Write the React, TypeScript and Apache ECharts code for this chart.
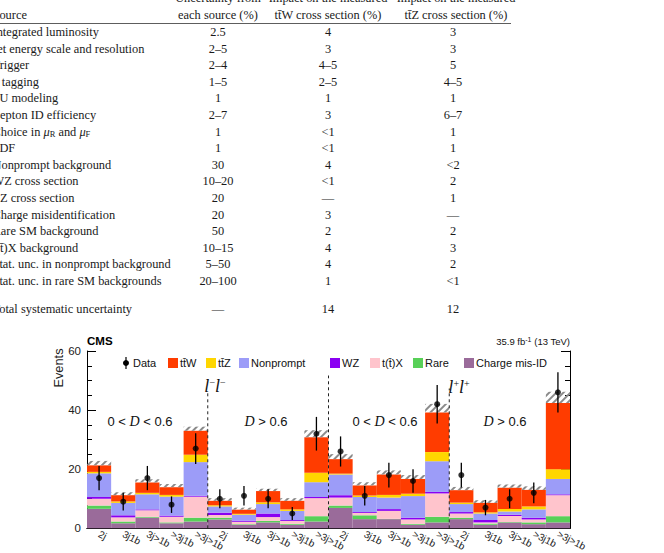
import React, { useEffect, useRef } from "react";
import * as echarts from "echarts";

// ---------- table data ----------
const tableHeaderTop = ["Uncertainty from", "Impact on the measured", "Impact on the measured"];
const tableHeaderBottom = ["Source", "each source (%)", "tt\u0304W cross section (%)", "tt\u0304Z cross section (%)"];
const tableSources = [
  "Integrated luminosity",
  "Jet energy scale and resolution",
  "Trigger",
  "b tagging",
  "PU modeling",
  "Lepton ID efficiency",
  "Choice in {m|\u03bc}{s|R} and {m|\u03bc}{s|F}",
  "PDF",
  "Nonprompt background",
  "WZ cross section",
  "ZZ cross section",
  "Charge misidentification",
  "Rare SM background",
  "t(t\u0304)X background",
  "Stat. unc. in nonprompt background",
  "Stat. unc. in rare SM backgrounds",
  "Total systematic uncertainty",
];
const tableEachSource = ["2.5", "2\u20135", "2\u20134", "1\u20135", "1", "2\u20137", "1", "1", "30", "10\u201320", "20", "20", "50", "10\u201315", "5\u201350", "20\u2013100", "\u2014"];
const tableImpactTTW = ["4", "3", "4\u20135", "2\u20135", "1", "3", "<1", "<1", "4", "<1", "\u2014", "3", "2", "4", "4", "1", "14"];
const tableImpactTTZ = ["3", "3", "5", "4\u20135", "1", "6\u20137", "1", "1", "<2", "2", "1", "\u2014", "2", "3", "2", "<1", "12"];

// ---------- chart data ----------
const binLabels = [
  "2j", "3j1b", "3j>1b", ">3j1b", ">3j>1b",
  "2j", "3j1b", "3j>1b", ">3j1b", ">3j>1b",
  "2j", "3j1b", "3j>1b", ">3j1b", ">3j>1b",
  "2j", "3j1b", "3j>1b", ">3j1b", ">3j>1b",
];
const chargeMisID = [6.6, 1.7, 3.6, 1.7, 2.3, 3.0, 1.2, 2.0, 1.2, 2.3, 6.9, 3.1, 3.1, 1.2, 2.0, 3.1, 1.2, 2.0, 1.4, 2.0];
const rare = [1.1, 0.6, 0.3, 0.3, 1.3, 0.6, 0.2, 0.5, 0.3, 1.8, 0.8, 1.3, 0.1, 0.3, 1.9, 0.5, 0.4, 0.1, 0.6, 2.1];
const ttX = [2.3, 1.4, 2.2, 1.9, 7.1, 0.9, 0.8, 1.3, 1.0, 6.1, 2.7, 0.8, 2.7, 1.5, 7.9, 1.4, 0.4, 2.1, 1.0, 7.1];
const wz = [0.6, 0.7, 0.3, 0.4, 0.3, 0.8, 0.4, 1.2, 0.3, 0.4, 0.8, 0.3, 0.6, 0.6, 0.5, 0.5, 0.8, 0.4, 0.6, 0.3];
const nonprompt = [8.0, 4.2, 5.1, 6.4, 11.4, 2.1, 2.0, 3.2, 3.1, 5.0, 7.0, 5.1, 3.9, 7.3, 10.4, 2.7, 2.2, 1.1, 2.8, 5.2];
const ttZ = [0.5, 0.5, 0.5, 0.6, 2.5, 0.4, 0.3, 0.6, 0.5, 3.2, 0.3, 0.5, 0.9, 0.8, 3.1, 0.5, 0.4, 0.8, 1.0, 3.3];
const ttW = [2.2, 2.1, 3.5, 2.6, 8.1, 1.5, 1.4, 3.8, 2.9, 12.0, 4.9, 3.4, 6.9, 5.0, 13.4, 4.2, 3.2, 7.2, 5.6, 22.4];
const systUnc = [1.5, 1.0, 1.1, 1.1, 1.4, 0.9, 0.7, 0.8, 0.9, 2.4, 1.7, 1.1, 1.4, 1.3, 2.9, 1.1, 0.9, 1.1, 1.2, 3.8];
const observed = [17, 9, 17, 8, 27, 10, 11, 10, 5, 32, 26, 11, 18, 16, 42, 18, 7, 10, 12, 46];
const observedErr = [4.1, 3.0, 4.1, 2.8, 5.2, 3.2, 3.3, 3.2, 2.2, 5.7, 5.1, 3.3, 4.2, 4.0, 6.5, 4.2, 2.6, 3.2, 3.5, 6.8];
const groupBoundaries = [5, 10, 15];
const boundaryTops = [45.7, 51.7, 47.3];

const SERIF = "'Liberation Serif', 'Times New Roman', serif";
const SANS = "'Liberation Sans', Arial, Helvetica, sans-serif";

const colors = {
  cm: "#9a6b9a",
  rare: "#58d058",
  ttx: "#ffc4cc",
  wz: "#8a00f2",
  np: "#9c9cf8",
  ttz: "#ffd600",
  ttw: "#ff3c00",
};

const stackDefs = [
  { name: "Charge mis-ID", data: chargeMisID, color: colors.cm },
  { name: "Rare", data: rare, color: colors.rare },
  { name: "t(t\u0304)X", data: ttX, color: colors.ttx },
  { name: "WZ", data: wz, color: colors.wz },
  { name: "Nonprompt", data: nonprompt, color: colors.np },
  { name: "tt\u0304Z", data: ttZ, color: colors.ttz },
  { name: "tt\u0304W", data: ttW, color: colors.ttw },
];

// legend layout (pixel positions of the box / label)
const legendLayout = [
  { name: "tt\u0304W", color: colors.ttw, x: 168 },
  { name: "tt\u0304Z", color: colors.ttz, x: 206 },
  { name: "Nonprompt", color: colors.np, x: 239 },
  { name: "WZ", color: colors.wz, x: 330 },
  { name: "t(t\u0304)X", color: colors.ttx, x: 370 },
  { name: "Rare", color: colors.rare, x: 413 },
  { name: "Charge mis-ID", color: colors.cm, x: 464 },
];

function buildTableGraphics() {
  const g: any[] = [];
  const fs = 12.4;
  const colX = [-7.5, 218, 328, 456];
  const txt = (text: string, x: number, y: number, align: string, rich?: any) => ({
    type: "text",
    x,
    y,
    silent: true,
    style: {
      text,
      textAlign: align,
      textVerticalAlign: "middle",
      fontFamily: SERIF,
      fontSize: fs,
      fill: "#1a1a1a",
      rich,
    },
  });
  tableHeaderTop.forEach((t, i) => g.push(txt(t, colX[i + 1], -2, "center")));
  tableHeaderBottom.forEach((t, i) => g.push(txt(t, colX[i], 15, i === 0 ? "left" : "center")));
  g.push({
    type: "line",
    silent: true,
    shape: { x1: 0, y1: 23.5, x2: 511, y2: 23.5 },
    style: { stroke: "#333", lineWidth: 0.8 },
  });
  const rich = {
    m: { fontFamily: SERIF, fontStyle: "italic", fontSize: fs, fill: "#1a1a1a" },
    s: { fontFamily: SERIF, fontSize: 8.5, fill: "#1a1a1a", verticalAlign: "bottom", padding: [4, 0, 0, 0] },
  };
  tableSources.forEach((src, i) => {
    const y = i < 16 ? 32 + i * 16.6 : 309;
    g.push(txt(src, colX[0], y, "left", rich));
    g.push(txt(tableEachSource[i], colX[1], y, "center"));
    g.push(txt(tableImpactTTW[i], colX[2], y, "center"));
    g.push(txt(tableImpactTTZ[i], colX[3] - 3, y, "center"));
  });
  return g;
}

function buildChartGraphics() {
  const g: any[] = [];
  g.push({
    type: "text",
    x: 87,
    y: 347,
    silent: true,
    style: { text: "CMS", fontFamily: SANS, fontWeight: "bold", fontSize: 11.5, fill: "#000", textAlign: "left", textVerticalAlign: "bottom" },
  });
  g.push({
    type: "text",
    x: 570,
    y: 347,
    silent: true,
    style: {
      text: "35.9 fb{sup|-1} (13 TeV)",
      fontFamily: SANS,
      fontSize: 9.5,
      fill: "#111",
      textAlign: "right",
      textVerticalAlign: "bottom",
      rich: { sup: { fontFamily: SANS, fontSize: 7, verticalAlign: "top", padding: [0, 0, 4, 0] } },
    },
  });
  g.push({
    type: "text",
    x: 58,
    y: 368,
    rotation: Math.PI / 2,
    silent: true,
    style: { text: "Events", fontFamily: SANS, fontSize: 12.8, fill: "#222", textAlign: "center", textVerticalAlign: "middle" },
  });
  // legend
  g.push({ type: "line", silent: true, shape: { x1: 126, y1: 357, x2: 126, y2: 369 }, style: { stroke: "#000", lineWidth: 1.2 } });
  g.push({ type: "circle", silent: true, shape: { cx: 126, cy: 363, r: 3 }, style: { fill: "#000" } });
  g.push({
    type: "text", x: 133, y: 363, silent: true,
    style: { text: "Data", fontFamily: SANS, fontSize: 11, fill: "#111", textAlign: "left", textVerticalAlign: "middle" },
  });
  legendLayout.forEach((it) => {
    g.push({ type: "rect", silent: true, shape: { x: it.x, y: 358, width: 10, height: 10 }, style: { fill: it.color } });
    g.push({
      type: "text", x: it.x + 12, y: 363, silent: true,
      style: { text: it.name, fontFamily: SANS, fontSize: 11, fill: "#111", textAlign: "left", textVerticalAlign: "middle" },
    });
  });
  // region labels
  const dRich = {
    n: { fontFamily: SANS, fontSize: 13, fill: "#111" },
    d: { fontFamily: SERIF, fontStyle: "italic", fontSize: 14, fill: "#111" },
  };
  const regionText = [
    { t: "{n|0 < }{d|D}{n| < 0.6}", x: 140 },
    { t: "{d|D}{n| > 0.6}", x: 266 },
    { t: "{n|0 < }{d|D}{n| < 0.6}", x: 385 },
    { t: "{d|D}{n| > 0.6}", x: 505 },
  ];
  regionText.forEach((r) => {
    g.push({
      type: "text", x: r.x, y: 421, silent: true,
      style: { text: r.t, rich: dRich, textAlign: "center", textVerticalAlign: "middle" },
    });
  });
  const lRich = {
    l: { fontFamily: SERIF, fontStyle: "italic", fontSize: 18, fill: "#111" },
    s: { fontFamily: SERIF, fontSize: 10, fill: "#111", verticalAlign: "top" },
  };
  g.push({
    type: "text", x: 215, y: 386, silent: true,
    style: { text: "{l|l}{s|\u2212}{l|l}{s|\u2212}", rich: lRich, textAlign: "center", textVerticalAlign: "middle" },
  });
  g.push({
    type: "text", x: 459, y: 387, silent: true,
    style: { text: "{l|l}{s|+}{l|l}{s|+}", rich: lRich, textAlign: "center", textVerticalAlign: "middle" },
  });
  return g;
}

export default function App() {
  const ref = useRef<HTMLDivElement>(null);
  useEffect(() => {
    if (!ref.current) return;
    const chart = echarts.init(ref.current, undefined, { renderer: "svg" });
    const axisLineStyle = { color: "#000", width: 1 };
    const barSeries: any[] = stackDefs.map((s) => ({
      name: s.name,
      type: "bar",
      stack: "mc",
      xAxisIndex: 0,
      yAxisIndex: 0,
      data: s.data,
      barCategoryGap: "0%",
      itemStyle: { color: s.color },
      silent: true,
    }));
    barSeries.push({
      name: "Uncertainty",
      type: "bar",
      stack: "mc",
      data: systUnc,
      silent: true,
      itemStyle: {
        color: "rgba(0,0,0,0)",
        decal: {
          symbol: "rect",
          symbolSize: 1,
          dashArrayX: [1, 0],
          dashArrayY: [1.2, 2.8],
          rotation: -Math.PI / 4,
          color: "#8a8a8a",
          backgroundColor: "rgba(0,0,0,0)",
        },
      },
    });
    const dashed = groupBoundaries.map((b, i) => ({
      type: "line",
      xAxisIndex: 2,
      yAxisIndex: 0,
      data: [[b, 0], [b, boundaryTops[i]]],
      symbol: "none",
      silent: true,
      lineStyle: { color: "#222", width: 1, type: [3, 3] },
      z: 5,
    }));
    const option: any = {
      animation: false,
      backgroundColor: "#fff",
      graphic: [...buildTableGraphics(), ...buildChartGraphics()],
      grid: { left: 87, top: 351, width: 483, height: 184, containLabel: false },
      xAxis: [
        {
          type: "category",
          data: binLabels,
          position: "bottom",
          axisLine: { lineStyle: axisLineStyle },
          axisTick: { inside: true, alignWithLabel: true, length: 6, lineStyle: axisLineStyle },
          axisLabel: {
            interval: 0,
            rotate: -27,
            margin: 5,
            fontFamily: SANS,
            fontSize: 10,
            color: "#222",
          },
          splitLine: { show: false },
        },
        {
          type: "category",
          data: binLabels,
          position: "top",
          axisLine: { lineStyle: axisLineStyle },
          axisTick: { inside: true, alignWithLabel: true, length: 5, lineStyle: axisLineStyle },
          axisLabel: { show: false },
          splitLine: { show: false },
        },
        { type: "value", min: 0, max: 20, show: false },
      ],
      yAxis: [
        {
          type: "value",
          min: 0,
          max: 60,
          interval: 20,
          position: "left",
          axisLine: { show: true, lineStyle: axisLineStyle },
          axisTick: { show: true, inside: true, length: 9, lineStyle: axisLineStyle },
          minorTick: { show: true, splitNumber: 4, length: 5, lineStyle: axisLineStyle },
          axisLabel: { fontFamily: SANS, fontSize: 11.5, color: "#222", margin: 6 },
          splitLine: { show: false },
        },
        {
          type: "value",
          min: 0,
          max: 60,
          interval: 20,
          position: "right",
          axisLine: { show: true, lineStyle: axisLineStyle },
          axisTick: { show: true, inside: true, length: 9, lineStyle: axisLineStyle },
          minorTick: { show: true, splitNumber: 4, length: 5, lineStyle: axisLineStyle },
          axisLabel: { show: false },
          splitLine: { show: false },
        },
      ],
      series: [
        ...barSeries,
        ...dashed,
        {
          name: "Data error",
          type: "custom",
          xAxisIndex: 0,
          yAxisIndex: 0,
          silent: true,
          z: 9,
          data: observed.map((v, i) => [i, v - observedErr[i], v + observedErr[i]]),
          renderItem: (params: any, api: any) => {
            const idx = api.value(0);
            const lo = api.coord([idx, api.value(1)]);
            const hi = api.coord([idx, api.value(2)]);
            return {
              type: "line",
              shape: { x1: lo[0], y1: lo[1], x2: hi[0], y2: hi[1] },
              style: { stroke: "#000", lineWidth: 1.3 },
            };
          },
        },
        {
          name: "Data",
          type: "scatter",
          xAxisIndex: 0,
          yAxisIndex: 0,
          data: observed,
          symbol: "circle",
          symbolSize: 6,
          itemStyle: { color: "#000" },
          silent: true,
          z: 10,
        },
      ],
    };
    chart.setOption(option);
    return () => chart.dispose();
  }, []);
  return (
    <div
      ref={ref}
      style={{ position: "absolute", left: 0, top: 0, width: 664, height: 553, background: "#fff" }}
    />
  );
}
